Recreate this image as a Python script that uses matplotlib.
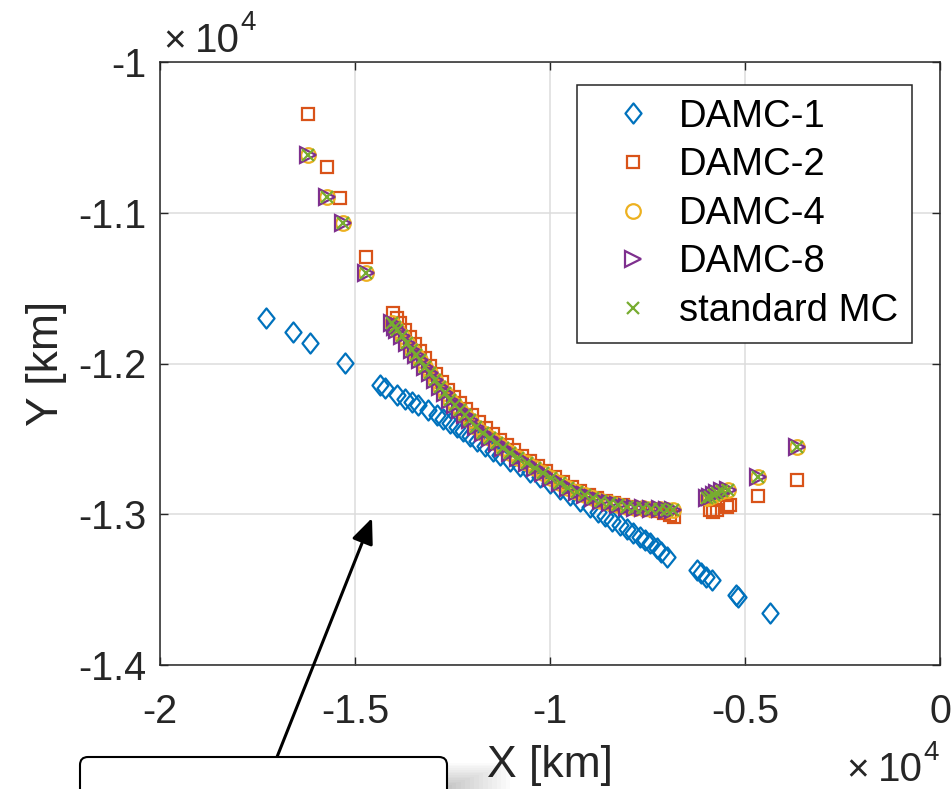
import numpy as np
import matplotlib
matplotlib.use("Agg")
import matplotlib.pyplot as plt
from matplotlib.path import Path
from matplotlib.patches import FancyBboxPatch, Rectangle

# positions in km
damc1_x = [-17282, -16590, -16154, -15256, -14359, -14231, -13923, -13718, -13538, -13385,
           -13128, -12897, -12744, -12564, -12385, -12231, -12051, -11872, -11667, -11462,
           -11282, -11026, -10769, -10513, -10256, -10000, -9744, -9487, -9231, -8974,
           -8769, -8590, -8410, -8205, -8026, -7872, -7692, -7564, -7436, -7256,
           -7154, -7000, -6231, -6128, -6000, -5846, -5231, -5179, -4359]
damc1_y = [-11698, -11791, -11864, -11997, -12142, -12162, -12209, -12235, -12255, -12275,
           -12308, -12341, -12368, -12395, -12421, -12448, -12481, -12514, -12547, -12580,
           -12607, -12647, -12680, -12720, -12753, -12792, -12832, -12872, -12912, -12952,
           -12985, -13011, -13045, -13071, -13098, -13124, -13151, -13171, -13190, -13224,
           -13250, -13283, -13370, -13389, -13416, -13436, -13535, -13549, -13655]

damc2_x = [-16205, -15718, -15385, -14718,
           -14026, -13923, -13846, -13718, -13590, -13462, -13333, -13205, -13077, -12923,
           -12769, -12615, -12462, -12308, -12154, -12000, -11821, -11641, -11462, -11282,
           -11103, -10923, -10718, -10513, -10308, -10103, -9872, -9667, -9436, -9231,
           -9000, -8795, -8564, -8359, -8128, -7923, -7692, -7487, -7282, -7077,
           -6923, -6821,
           -5897, -5821, -5718, -5462, -5385, -4667, -3667]
damc2_y = [-10345, -10696, -10902, -11293,
           -11665, -11698, -11731, -11778, -11824, -11871, -11917, -11963, -12016, -12069,
           -12123, -12176, -12222, -12262, -12302, -12341, -12388, -12428, -12467, -12507,
           -12540, -12574, -12613, -12647, -12680, -12713, -12753, -12786, -12819, -12846,
           -12872, -12892, -12912, -12925, -12938, -12952, -12958, -12972, -12978, -12991,
           -13005, -13018,
           -12972, -12985, -12972, -12952, -12938, -12879, -12773]

mc_x = [-16205, -15718, -15308, -14718,
        -14051, -13974, -13923, -13795, -13667, -13538, -13436, -13333, -13205, -13077,
        -12949, -12821, -12692, -12564, -12436, -12308, -12179, -12051, -11897, -11718,
        -11538, -11359, -11205, -11026, -10821, -10590, -10385, -10179, -9974, -9744,
        -9538, -9308, -9103, -8897, -8692, -8462, -8256, -8026, -7821, -7615,
        -7410, -7179, -7000, -6846,
        -5974, -5897, -5795, -5718, -5590, -5436, -4667, -3667]
mc_y = [-10617, -10895, -11068, -11400,
        -11731, -11758, -11778, -11817, -11864, -11910, -11943, -11977, -12023, -12063,
        -12109, -12156, -12196, -12242, -12275, -12308, -12341, -12375, -12421, -12461,
        -12494, -12527, -12560, -12594, -12627, -12660, -12693, -12726, -12759, -12792,
        -12826, -12852, -12872, -12892, -12912, -12925, -12938, -12952, -12958, -12958,
        -12965, -12965, -12972, -12972,
        -12892, -12885, -12872, -12859, -12846, -12839, -12753, -12554]

# DAMC-4 and DAMC-8 sit on top of standard MC in the picture
damc4_x, damc4_y = mc_x, mc_y
damc8_x, damc8_y = mc_x, mc_y

x_ticks = [-20000, -15000, -10000, -5000, 0]
y_ticks = [-14000, -13000, -12000, -11000, -10000]

# MATLAB default colour order
c_blue, c_orange, c_yellow = '#0072BD', '#D95319', '#EDB120'
c_purple, c_green = '#7E2F8E', '#77AC30'
axis_col = '#262626'

plt.rcParams['font.family'] = ['Liberation Sans', 'DejaVu Sans']

# MATLAB style diamond (a bit taller than wide)
diamond = Path([(0, 1), (0.8, 0), (0, -1), (-0.8, 0), (0, 1)],
               [Path.MOVETO, Path.LINETO, Path.LINETO, Path.LINETO, Path.CLOSEPOLY])

fig = plt.figure(figsize=(9.53, 7.89), dpi=100)
ax = fig.add_axes([160 / 953, 1 - 665 / 789, 780 / 953, 603 / 789])

mew = 1.6
ax.plot(damc1_x, damc1_y, ls='none', marker=diamond, ms=14.5, mfc='none', mec=c_blue, mew=mew, label='DAMC-1')
ax.plot(damc2_x, damc2_y, ls='none', marker='s', ms=9, mfc='none', mec=c_orange, mew=mew, label='DAMC-2')
ax.plot(damc4_x, damc4_y, ls='none', marker='o', ms=10.5, mfc='none', mec=c_yellow, mew=mew, label='DAMC-4')
ax.plot(damc8_x, damc8_y, ls='none', marker='>', ms=12, mfc='none', mec=c_purple, mew=mew, label='DAMC-8')
ax.plot(mc_x, mc_y, ls='none', marker='x', ms=8.5, mfc='none', mec=c_green, mew=mew, label='standard MC')

ax.set_xlim(-20000, 0)
ax.set_ylim(-14000, -10000)
ax.set_xticks(x_ticks)
ax.set_yticks(y_ticks)
ax.set_xticklabels(['%g' % (v / 1e4) for v in x_ticks])
ax.set_yticklabels(['%g' % (v / 1e4) for v in y_ticks])
ax.tick_params(direction='in', length=6, width=1, colors=axis_col, labelsize=28.5,
               top=True, right=True)
ax.tick_params(axis='x', pad=20)
ax.tick_params(axis='y', pad=10)
for s in ax.spines.values():
    s.set_color(axis_col)
    s.set_linewidth(1.1)
ax.grid(True, color='#dcdcdc', lw=1.1)
ax.set_axisbelow(True)

ax.set_xlabel('X [km]', fontsize=32, color=axis_col, labelpad=10)
ax.set_ylabel('Y [km]', fontsize=32, color=axis_col, labelpad=8)

# exponent labels, MATLAB style: "x" then "10" then a raised "4"
def exponent_label(x_times, x_ten, baseline, sup_baseline):
    fig.text(x_times / 953, 1 - baseline / 789, '\u00d7', fontsize=28, color=axis_col,
             ha='left', va='baseline')
    ten = fig.text(x_ten / 953, 1 - baseline / 789, '10', fontsize=29, color=axis_col,
                   ha='left', va='baseline')
    fig.canvas.draw()
    bb = ten.get_window_extent()
    fig.text(bb.x1 / 953, 1 - sup_baseline / 789, '4', fontsize=20, color=axis_col,
             ha='left', va='baseline')

exponent_label(163, 195, 52, 30)
exponent_label(846, 878, 781, 760)

leg = ax.legend(loc='upper right', bbox_to_anchor=(0.964, 0.962), fontsize=27.5,
                frameon=True, fancybox=False, framealpha=1, edgecolor=axis_col,
                borderaxespad=0, borderpad=0.36, labelspacing=0.33,
                handlelength=2.2, handletextpad=0.1)
leg.get_frame().set_linewidth(1.1)

# text box with soft shadow at the bottom, cut by the figure edge
for i in range(14):
    w = 70 - 4.5 * i
    h = 26 - 1.7 * i
    fig.patches.append(Rectangle((4.40, 0.0), w / 100, h / 100, transform=fig.dpi_scale_trans,
                                 facecolor='k', edgecolor='none', alpha=0.014, zorder=1))
box = FancyBboxPatch((0.80, -0.30), 3.67, 0.62, boxstyle='round,pad=0,rounding_size=0.08',
                     transform=fig.dpi_scale_trans, facecolor='white', edgecolor='k',
                     lw=1.5, zorder=2)
fig.patches.append(box)

ax.annotate('', xy=(-14564, -13025), xycoords='data', xytext=(277, 32),
            textcoords='figure pixels', annotation_clip=False,
            arrowprops=dict(arrowstyle='-|>,head_length=0.7,head_width=0.3', color='k',
                            lw=2.2, shrinkA=0, shrinkB=0, mutation_scale=22),
            zorder=10)

fig.savefig('out.png', dpi=100)
